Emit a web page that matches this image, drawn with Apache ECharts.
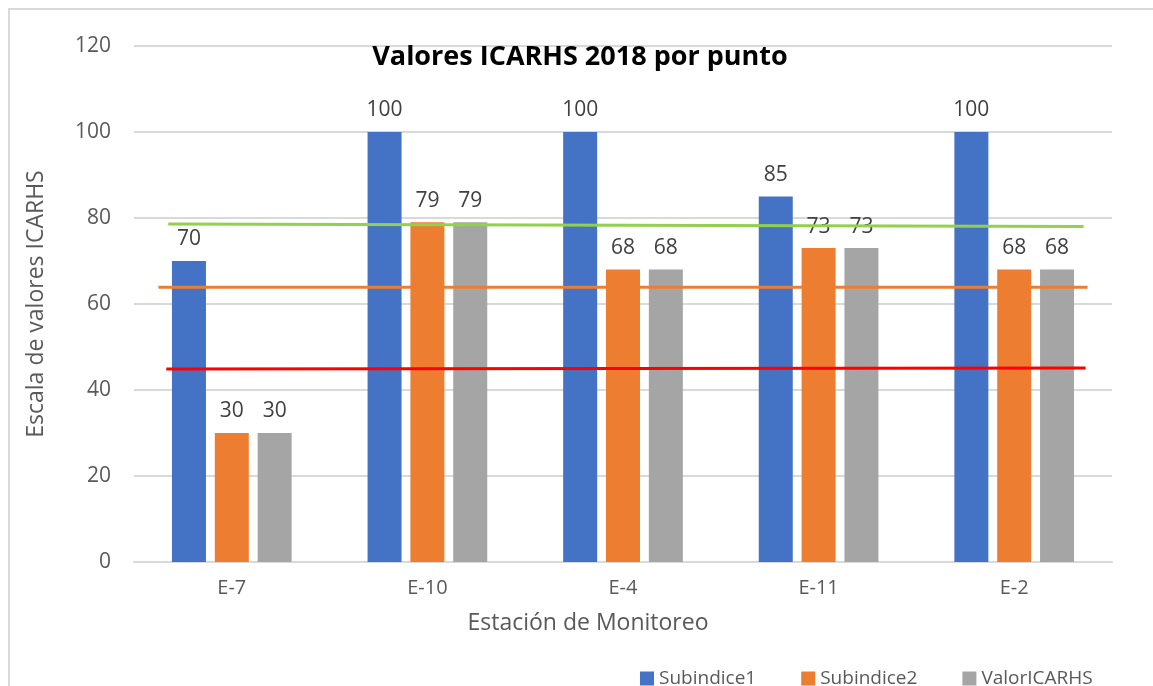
<!DOCTYPE html>
<html>
<head>
<meta charset="utf-8">
<title>Valores ICARHS 2018 por punto</title>
<script src="https://cdn.jsdelivr.net/npm/echarts@6/dist/echarts.min.js"></script>
<style>
  html, body { margin: 0; padding: 0; background: #fff; }
  #chart { width: 1153px; height: 686px; }
</style>
</head>
<body>
<div id="chart"></div>
<script>
// datos
const estaciones = ['E-7', 'E-10', 'E-4', 'E-11', 'E-2'];
const subindice1 = [70, 100, 100, 85, 100];
const subindice2 = [30, 79, 68, 73, 68];
const valorIcarhs = [30, 79, 68, 73, 68];
const yTicks = [0, 20, 40, 60, 80, 100, 120];

// lineas de referencia (valor al inicio y al final, posicion relativa 0..1 en el eje horizontal)
const lineaVerde = [[0.035, 78.6], [0.971, 78.0]];
const lineaNaranja = [[0.025, 63.9], [0.975, 63.9]];
const lineaRoja = [[0.033, 44.9], [0.973, 45.1]];

const FONT = '"Open Sans", "Liberation Sans", sans-serif';

const chart = echarts.init(document.getElementById('chart'));

const barLabel = {
  show: true,
  position: 'top',
  distance: 11,
  color: '#404040',
  fontSize: 21,
  fontFamily: FONT
};

const refLine = (data, color) => ({
  type: 'line',
  xAxisIndex: 1,
  data: data,
  symbol: 'none',
  silent: true,
  z: 5,
  lineStyle: { color: color, width: 3 }
});

const option = {
  backgroundColor: '#fff',
  animation: false,
  title: {
    text: 'Valores ICARHS 2018 por punto',
    left: 575,
    top: 39,
    textAlign: 'center',
    textStyle: { fontFamily: FONT, fontSize: 27, fontWeight: 'bold', color: '#000' }
  },
  graphic: [{
    type: 'rect',
    shape: { x: 9, y: 9, width: 1170, height: 700 },
    style: { fill: 'none', stroke: '#d9d9d9', lineWidth: 2 },
    silent: true
  }],
  grid: { left: 134, right: 41, top: 46, bottom: 124 },
  legend: {
    left: 635,
    top: 664,
    itemWidth: 14,
    itemHeight: 14,
    itemGap: 45,
    icon: 'rect',
    textStyle: { fontFamily: FONT, fontSize: 19, color: '#595959' },
    data: ['Subindice1', 'Subindice2', 'ValorICARHS']
  },
  xAxis: [{
    type: 'category',
    data: estaciones,
    name: 'Estación de Monitoreo',
    nameLocation: 'middle',
    nameGap: 50,
    nameTextStyle: { fontFamily: FONT, fontSize: 23, color: '#595959', padding: [0, 70, 0, 0] },
    axisLine: { lineStyle: { color: '#d9d9d9', width: 2 } },
    axisTick: { show: false },
    axisLabel: { margin: 16, fontFamily: FONT, fontSize: 20, color: '#595959' }
  }, {
    type: 'value',
    min: 0,
    max: 1,
    show: false
  }],
  yAxis: {
    type: 'value',
    min: yTicks[0],
    max: yTicks[yTicks.length - 1],
    interval: 20,
    name: 'Escala de valores ICARHS',
    nameLocation: 'middle',
    nameGap: 86,
    nameTextStyle: { fontFamily: FONT, fontSize: 23, color: '#595959' },
    axisLine: { show: false },
    axisTick: { show: false },
    axisLabel: { margin: 23, fontFamily: FONT, fontSize: 21, color: '#595959' },
    splitLine: { lineStyle: { color: '#d9d9d9', width: 2 } }
  },
  series: [
    { name: 'Subindice1', type: 'bar', data: subindice1, barWidth: 34, barGap: '26%',
      itemStyle: { color: '#4472C4' }, label: barLabel },
    { name: 'Subindice2', type: 'bar', data: subindice2, barWidth: 34, barGap: '26%',
      itemStyle: { color: '#ED7D31' }, label: barLabel },
    { name: 'ValorICARHS', type: 'bar', data: valorIcarhs, barWidth: 34, barGap: '26%',
      itemStyle: { color: '#A5A5A5' }, label: barLabel },
    refLine(lineaVerde, '#92D050'),
    refLine(lineaNaranja, '#ED7D31'),
    refLine(lineaRoja, '#FF0000')
  ]
};

chart.setOption(option);
window.addEventListener('resize', () => chart.resize());
</script>
</body>
</html>
